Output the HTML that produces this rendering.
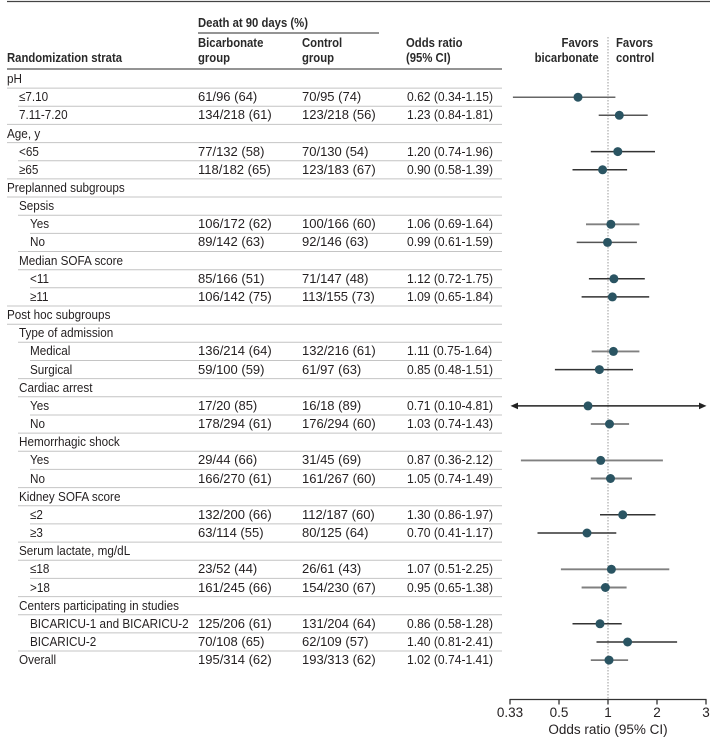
<!DOCTYPE html>
<html><head><meta charset="utf-8">
<style>
html,body{margin:0;padding:0;background:#fff;}
body{width:716px;height:744px;position:relative;overflow:hidden;font-family:"Liberation Sans",sans-serif;color:#231f20;}
.t{position:absolute;font-size:13px;line-height:18px;white-space:nowrap;transform-origin:0 0;}
.l{transform:scaleX(0.9);}
.o{transform:scaleX(0.93);}
.h{font-weight:bold;transform:scaleX(0.87);color:#2a2a2a;}
.hr{font-weight:bold;transform:scaleX(0.87);transform-origin:100% 0;text-align:right;color:#2a2a2a;}
svg{position:absolute;left:0;top:0;}
</style></head><body>
<svg width="716" height="744" viewBox="0 0 716 744">
<line x1="7" y1="1.5" x2="710" y2="1.5" stroke="#444" stroke-width="1.3"/>
<line x1="198" y1="33" x2="379" y2="33" stroke="#555" stroke-width="1.2"/>
<line x1="7" y1="69" x2="502" y2="69" stroke="#555" stroke-width="1.3"/>
<g stroke="#c4c4c4" stroke-width="1">
<line x1="7" y1="88.1" x2="502" y2="88.1"/>
<line x1="18" y1="106.2" x2="502" y2="106.2"/>
<line x1="7" y1="124.4" x2="502" y2="124.4"/>
<line x1="7" y1="142.6" x2="502" y2="142.6"/>
<line x1="18" y1="160.7" x2="502" y2="160.7"/>
<line x1="7" y1="178.9" x2="502" y2="178.9"/>
<line x1="7" y1="197" x2="502" y2="197"/>
<line x1="18" y1="215.2" x2="502" y2="215.2"/>
<line x1="30" y1="233.4" x2="502" y2="233.4"/>
<line x1="18" y1="251.5" x2="502" y2="251.5"/>
<line x1="18" y1="269.7" x2="502" y2="269.7"/>
<line x1="30" y1="287.8" x2="502" y2="287.8"/>
<line x1="7" y1="306" x2="502" y2="306"/>
<line x1="7" y1="324.2" x2="502" y2="324.2"/>
<line x1="18" y1="342.3" x2="502" y2="342.3"/>
<line x1="30" y1="360.5" x2="502" y2="360.5"/>
<line x1="18" y1="378.6" x2="502" y2="378.6"/>
<line x1="18" y1="396.8" x2="502" y2="396.8"/>
<line x1="30" y1="415" x2="502" y2="415"/>
<line x1="18" y1="433.1" x2="502" y2="433.1"/>
<line x1="18" y1="451.3" x2="502" y2="451.3"/>
<line x1="30" y1="469.4" x2="502" y2="469.4"/>
<line x1="18" y1="487.6" x2="502" y2="487.6"/>
<line x1="18" y1="505.8" x2="502" y2="505.8"/>
<line x1="30" y1="523.9" x2="502" y2="523.9"/>
<line x1="18" y1="542.1" x2="502" y2="542.1"/>
<line x1="18" y1="560.2" x2="502" y2="560.2"/>
<line x1="30" y1="578.4" x2="502" y2="578.4"/>
<line x1="18" y1="596.6" x2="502" y2="596.6"/>
<line x1="18" y1="614.7" x2="502" y2="614.7"/>
<line x1="30" y1="632.9" x2="502" y2="632.9"/>
<line x1="18" y1="651" x2="502" y2="651"/>
</g>
<line x1="608" y1="37" x2="608" y2="700" stroke="#9a9a9a" stroke-width="1" stroke-dasharray="1.5,1.5"/>
<g stroke-width="1.5">
<line x1="512.9" y1="97.2" x2="615.4" y2="97.2" stroke="#666"/>
<line x1="598.7" y1="115.3" x2="647.7" y2="115.3" stroke="#555"/>
<line x1="590.8" y1="151.6" x2="655" y2="151.6" stroke="#333"/>
<line x1="572.5" y1="169.8" x2="627.1" y2="169.8" stroke="#333"/>
<line x1="586" y1="224.3" x2="639.4" y2="224.3" stroke="#808080" stroke-width="1.9"/>
<line x1="576.7" y1="242.4" x2="636.9" y2="242.4" stroke="#555"/>
<line x1="588.9" y1="278.8" x2="644.8" y2="278.8" stroke="#333"/>
<line x1="581.6" y1="296.9" x2="649.2" y2="296.9" stroke="#333"/>
<line x1="591.7" y1="351.4" x2="639.4" y2="351.4" stroke="#808080" stroke-width="1.9"/>
<line x1="554.9" y1="369.6" x2="633" y2="369.6" stroke="#333"/>
<line x1="516" y1="405.9" x2="700" y2="405.9" stroke="#222"/>
<line x1="590.8" y1="424" x2="629.1" y2="424" stroke="#666"/>
<line x1="520.9" y1="460.4" x2="662.9" y2="460.4" stroke="#808080" stroke-width="1.9"/>
<line x1="590.8" y1="478.5" x2="632" y2="478.5" stroke="#808080" stroke-width="1.9"/>
<line x1="600" y1="514.8" x2="655.5" y2="514.8" stroke="#333"/>
<line x1="537.5" y1="533" x2="616.3" y2="533" stroke="#333"/>
<line x1="560.9" y1="569.3" x2="669.3" y2="569.3" stroke="#808080" stroke-width="1.9"/>
<line x1="581.6" y1="587.5" x2="626.6" y2="587.5" stroke="#808080" stroke-width="1.9"/>
<line x1="572.5" y1="623.8" x2="621.7" y2="623.8" stroke="#333"/>
<line x1="596.5" y1="642" x2="677.1" y2="642" stroke="#333"/>
<line x1="590.8" y1="660.1" x2="628.1" y2="660.1" stroke="#666"/>
</g>
<polygon points="510.5,405.9 518,402.6 518,409.2" fill="#222"/>
<polygon points="706.5,405.9 699,402.6 699,409.2" fill="#222"/>
<g fill="#2a5462">
<circle cx="578" cy="97.2" r="4.5"/>
<circle cx="619.3" cy="115.3" r="4.5"/>
<circle cx="617.8" cy="151.6" r="4.5"/>
<circle cx="602.6" cy="169.8" r="4.5"/>
<circle cx="610.9" cy="224.3" r="4.5"/>
<circle cx="607.5" cy="242.4" r="4.5"/>
<circle cx="613.9" cy="278.8" r="4.5"/>
<circle cx="612.4" cy="296.9" r="4.5"/>
<circle cx="613.4" cy="351.4" r="4.5"/>
<circle cx="599.4" cy="369.6" r="4.5"/>
<circle cx="588" cy="405.9" r="4.5"/>
<circle cx="609.5" cy="424" r="4.5"/>
<circle cx="600.7" cy="460.4" r="4.5"/>
<circle cx="610.5" cy="478.5" r="4.5"/>
<circle cx="622.7" cy="514.8" r="4.5"/>
<circle cx="587" cy="533" r="4.5"/>
<circle cx="611.4" cy="569.3" r="4.5"/>
<circle cx="605.4" cy="587.5" r="4.5"/>
<circle cx="600" cy="623.8" r="4.5"/>
<circle cx="627.6" cy="642" r="4.5"/>
<circle cx="609" cy="660.1" r="4.5"/>
</g>
<g stroke="#333" stroke-width="1.3">
<line x1="509.7" y1="699.5" x2="706.5" y2="699.5"/>
<line x1="510" y1="699" x2="510" y2="704.5"/>
<line x1="559" y1="699" x2="559" y2="704.5"/>
<line x1="608" y1="699" x2="608" y2="704.5"/>
<line x1="657" y1="699" x2="657" y2="704.5"/>
<line x1="706" y1="699" x2="706" y2="704.5"/>
</g>
</svg>

<div class="t h" style="left:198px;top:14px;">Death at 90 days (%)</div>
<div class="t h" style="left:198px;top:34px;">Bicarbonate</div>
<div class="t h" style="left:198px;top:49px;">group</div>
<div class="t h" style="left:302px;top:34px;">Control</div>
<div class="t h" style="left:302px;top:49px;">group</div>
<div class="t h" style="left:7px;top:49px;">Randomization strata</div>
<div class="t h" style="left:406px;top:34px;">Odds ratio</div>
<div class="t h" style="left:406px;top:49px;">(95% CI)</div>
<div class="t hr" style="right:117px;top:34px;">Favors</div>
<div class="t hr" style="right:117px;top:49px;">bicarbonate</div>
<div class="t h" style="left:616px;top:34px;">Favors</div>
<div class="t h" style="left:616px;top:49px;">control</div>

<div class="t l" style="left:7px;top:70px;">pH</div>

<div class="t l" style="left:18.5px;top:88.2px;">≤7.10</div>
<div class="t" style="left:198px;top:88.2px;">61/96 (64)</div>
<div class="t" style="left:302px;top:88.2px;">70/95 (74)</div>
<div class="t o" style="left:406.5px;top:88.2px;">0.62 (0.34-1.15)</div>

<div class="t l" style="left:18.5px;top:106.3px;">7.11-7.20</div>
<div class="t" style="left:198px;top:106.3px;">134/218 (61)</div>
<div class="t" style="left:302px;top:106.3px;">123/218 (56)</div>
<div class="t o" style="left:406.5px;top:106.3px;">1.23 (0.84-1.81)</div>

<div class="t l" style="left:7px;top:124.5px;">Age, y</div>

<div class="t l" style="left:18.5px;top:142.6px;">&lt;65</div>
<div class="t" style="left:198px;top:142.6px;">77/132 (58)</div>
<div class="t" style="left:302px;top:142.6px;">70/130 (54)</div>
<div class="t o" style="left:406.5px;top:142.6px;">1.20 (0.74-1.96)</div>

<div class="t l" style="left:18.5px;top:160.8px;">≥65</div>
<div class="t" style="left:198px;top:160.8px;">118/182 (65)</div>
<div class="t" style="left:302px;top:160.8px;">123/183 (67)</div>
<div class="t o" style="left:406.5px;top:160.8px;">0.90 (0.58-1.39)</div>

<div class="t l" style="left:7px;top:179px;">Preplanned subgroups</div>
<div class="t l" style="left:18.5px;top:197.1px;">Sepsis</div>

<div class="t l" style="left:30px;top:215.3px;">Yes</div>
<div class="t" style="left:198px;top:215.3px;">106/172 (62)</div>
<div class="t" style="left:302px;top:215.3px;">100/166 (60)</div>
<div class="t o" style="left:406.5px;top:215.3px;">1.06 (0.69-1.64)</div>

<div class="t l" style="left:30px;top:233.4px;">No</div>
<div class="t" style="left:198px;top:233.4px;">89/142 (63)</div>
<div class="t" style="left:302px;top:233.4px;">92/146 (63)</div>
<div class="t o" style="left:406.5px;top:233.4px;">0.99 (0.61-1.59)</div>

<div class="t l" style="left:18.5px;top:251.6px;">Median SOFA score</div>

<div class="t l" style="left:30px;top:269.8px;">&lt;11</div>
<div class="t" style="left:198px;top:269.8px;">85/166 (51)</div>
<div class="t" style="left:302px;top:269.8px;">71/147 (48)</div>
<div class="t o" style="left:406.5px;top:269.8px;">1.12 (0.72-1.75)</div>

<div class="t l" style="left:30px;top:287.9px;">≥11</div>
<div class="t" style="left:198px;top:287.9px;">106/142 (75)</div>
<div class="t" style="left:302px;top:287.9px;">113/155 (73)</div>
<div class="t o" style="left:406.5px;top:287.9px;">1.09 (0.65-1.84)</div>

<div class="t l" style="left:7px;top:306.1px;">Post hoc subgroups</div>
<div class="t l" style="left:18.5px;top:324.2px;">Type of admission</div>

<div class="t l" style="left:30px;top:342.4px;">Medical</div>
<div class="t" style="left:198px;top:342.4px;">136/214 (64)</div>
<div class="t" style="left:302px;top:342.4px;">132/216 (61)</div>
<div class="t o" style="left:406.5px;top:342.4px;">1.11 (0.75-1.64)</div>

<div class="t l" style="left:30px;top:360.6px;">Surgical</div>
<div class="t" style="left:198px;top:360.6px;">59/100 (59)</div>
<div class="t" style="left:302px;top:360.6px;">61/97 (63)</div>
<div class="t o" style="left:406.5px;top:360.6px;">0.85 (0.48-1.51)</div>

<div class="t l" style="left:18.5px;top:378.7px;">Cardiac arrest</div>

<div class="t l" style="left:30px;top:396.9px;">Yes</div>
<div class="t" style="left:198px;top:396.9px;">17/20 (85)</div>
<div class="t" style="left:302px;top:396.9px;">16/18 (89)</div>
<div class="t o" style="left:406.5px;top:396.9px;">0.71 (0.10-4.81)</div>

<div class="t l" style="left:30px;top:415px;">No</div>
<div class="t" style="left:198px;top:415px;">178/294 (61)</div>
<div class="t" style="left:302px;top:415px;">176/294 (60)</div>
<div class="t o" style="left:406.5px;top:415px;">1.03 (0.74-1.43)</div>

<div class="t l" style="left:18.5px;top:433.2px;">Hemorrhagic shock</div>

<div class="t l" style="left:30px;top:451.4px;">Yes</div>
<div class="t" style="left:198px;top:451.4px;">29/44 (66)</div>
<div class="t" style="left:302px;top:451.4px;">31/45 (69)</div>
<div class="t o" style="left:406.5px;top:451.4px;">0.87 (0.36-2.12)</div>

<div class="t l" style="left:30px;top:469.5px;">No</div>
<div class="t" style="left:198px;top:469.5px;">166/270 (61)</div>
<div class="t" style="left:302px;top:469.5px;">161/267 (60)</div>
<div class="t o" style="left:406.5px;top:469.5px;">1.05 (0.74-1.49)</div>

<div class="t l" style="left:18.5px;top:487.7px;">Kidney SOFA score</div>

<div class="t l" style="left:30px;top:505.8px;">≤2</div>
<div class="t" style="left:198px;top:505.8px;">132/200 (66)</div>
<div class="t" style="left:302px;top:505.8px;">112/187 (60)</div>
<div class="t o" style="left:406.5px;top:505.8px;">1.30 (0.86-1.97)</div>

<div class="t l" style="left:30px;top:524px;">≥3</div>
<div class="t" style="left:198px;top:524px;">63/114 (55)</div>
<div class="t" style="left:302px;top:524px;">80/125 (64)</div>
<div class="t o" style="left:406.5px;top:524px;">0.70 (0.41-1.17)</div>

<div class="t l" style="left:18.5px;top:542.2px;">Serum lactate, mg/dL</div>

<div class="t l" style="left:30px;top:560.3px;">≤18</div>
<div class="t" style="left:198px;top:560.3px;">23/52 (44)</div>
<div class="t" style="left:302px;top:560.3px;">26/61 (43)</div>
<div class="t o" style="left:406.5px;top:560.3px;">1.07 (0.51-2.25)</div>

<div class="t l" style="left:30px;top:578.5px;">&gt;18</div>
<div class="t" style="left:198px;top:578.5px;">161/245 (66)</div>
<div class="t" style="left:302px;top:578.5px;">154/230 (67)</div>
<div class="t o" style="left:406.5px;top:578.5px;">0.95 (0.65-1.38)</div>

<div class="t l" style="left:18.5px;top:596.6px;">Centers participating in studies</div>

<div class="t l" style="left:30px;top:614.8px;">BICARICU-1 and BICARICU-2</div>
<div class="t" style="left:198px;top:614.8px;">125/206 (61)</div>
<div class="t" style="left:302px;top:614.8px;">131/204 (64)</div>
<div class="t o" style="left:406.5px;top:614.8px;">0.86 (0.58-1.28)</div>

<div class="t l" style="left:30px;top:633px;">BICARICU-2</div>
<div class="t" style="left:198px;top:633px;">70/108 (65)</div>
<div class="t" style="left:302px;top:633px;">62/109 (57)</div>
<div class="t o" style="left:406.5px;top:633px;">1.40 (0.81-2.41)</div>

<div class="t l" style="left:18.5px;top:651.1px;">Overall</div>
<div class="t" style="left:198px;top:651.1px;">195/314 (62)</div>
<div class="t" style="left:302px;top:651.1px;">193/313 (62)</div>
<div class="t o" style="left:406.5px;top:651.1px;">1.02 (0.74-1.41)</div>

<div class="t" style="left:480px;width:60px;text-align:center;top:704px;font-size:13.5px;">0.33</div>
<div class="t" style="left:529px;width:60px;text-align:center;top:704px;font-size:13.5px;">0.5</div>
<div class="t" style="left:578px;width:60px;text-align:center;top:704px;font-size:13.5px;">1</div>
<div class="t" style="left:627px;width:60px;text-align:center;top:704px;font-size:13.5px;">2</div>
<div class="t" style="left:676px;width:60px;text-align:center;top:704px;font-size:13.5px;">3</div>
<div class="t" style="left:528px;width:160px;text-align:center;top:721px;font-size:13.5px;">Odds ratio (95% CI)</div>
</body></html>
